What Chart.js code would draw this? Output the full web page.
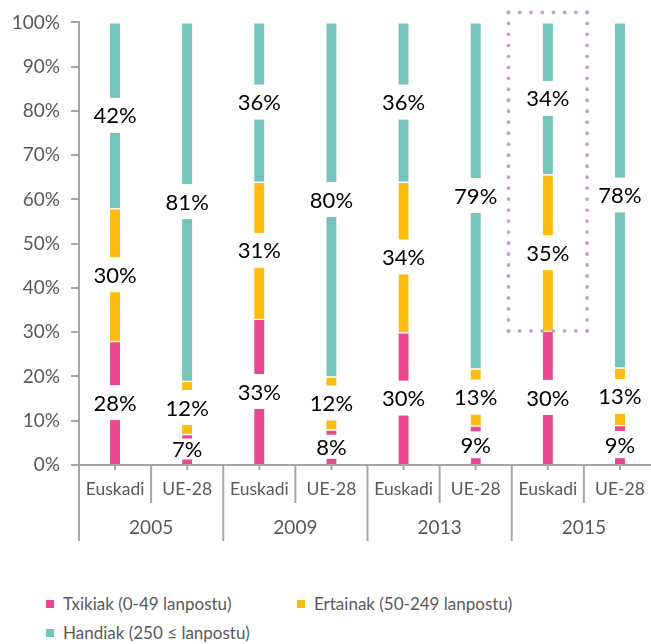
<!DOCTYPE html>
<html lang="eu">
<head>
    <meta charset="UTF-8">
    <title>Enpresen tamaina</title>
    <script src="https://cdn.jsdelivr.net/npm/chart.js@4"></script>
    <style>
        * { box-sizing: border-box; margin: 0; padding: 0; }
        body { background: #fff; width: 651px; height: 644px; overflow: hidden; font-family: 'Lato', sans-serif; }
        .wrap { position: relative; width: 651px; height: 644px; overflow: hidden; }
        #chart { position: absolute; left: 0; top: 0; }
        .legend {
            position: absolute; left: 46px; top: 589px;
            display: grid; grid-template-columns: 251px auto;
            font-size: 17px; line-height: 29px; color: #595959;
        }
        .legend-item { display: flex; align-items: center; white-space: nowrap; }
        .legend-box { width: 8px; height: 8px; margin-right: 9px; }
    </style>
</head>
<body>
<div class="wrap">
    <canvas id="chart" width="656" height="560"></canvas>
    <div class="legend" id="legend"></div>
</div>
<script>
    // categories: two levels (region / year)
    const regions = ['Euskadi', 'UE-28', 'Euskadi', 'UE-28', 'Euskadi', 'UE-28', 'Euskadi', 'UE-28'];
    const years = ['2005', '2009', '2013', '2015'];

    // enpresa tamaina, % of total
    const txikiak  = [28, 7, 33, 8, 30, 9, 30, 9];
    const ertainak = [30, 12, 31, 12, 34, 13, 35, 13];
    const handiak  = [42, 81, 36, 80, 36, 79, 34, 78];

    const seriesNames = ['Txikiak (0-49 lanpostu)', 'Ertainak (50-249 lanpostu)', 'Handiak (250 \u2264 lanpostu)'];
    const seriesColors = ['#E9488F', '#FCBD10', '#74C4B9'];

    const yTicks = [0, 10, 20, 30, 40, 50, 60, 70, 80, 90, 100];

    const highlightIndex = 6; // Euskadi 2015

    const grey = '#A6A6A6';
    const textGrey = '#595959';

    // rounded labels don't always sum to 100, scale each bar to 100%
    const totals = txikiak.map((v, i) => v + ertainak[i] + handiak[i]);
    const share = arr => arr.map((v, i) => v / totals[i] * 100);

    const series = [txikiak, ertainak, handiak];

    const datasets = series.map((arr, k) => ({
        label: seriesNames[k],
        data: share(arr),
        pct: arr,
        backgroundColor: seriesColors[k],
        borderColor: '#fff',
        borderWidth: { top: 1.5, bottom: 0, left: 0, right: 0 },
        borderSkipped: false,
        barThickness: 10
    }));

    const segmentLabels = {
        id: 'segmentLabels',
        afterDatasetsDraw(chart) {
            const ctx = chart.ctx;
            ctx.save();
            ctx.font = '22px Lato';
            ctx.textAlign = 'center';
            ctx.textBaseline = 'middle';
            chart.data.datasets.forEach((ds, di) => {
                chart.getDatasetMeta(di).data.forEach((bar, i) => {
                    const cy = (bar.y + bar.base) / 2;
                    const segH = Math.abs(bar.base - bar.y);
                    const boxH = Math.min(35, segH * 0.7);
                    const txt = ds.pct[i] + '%';
                    const w = ctx.measureText(txt).width + 6;
                    ctx.fillStyle = '#fff';
                    ctx.fillRect(bar.x - w / 2, cy - boxH / 2, w, boxH);
                    ctx.fillStyle = '#000';
                    ctx.fillText(txt, bar.x, cy + 1);
                });
            });
            ctx.restore();
        }
    };

    const highlightBox = {
        id: 'highlightBox',
        afterDraw(chart) {
            const ctx = chart.ctx;
            const x = chart.scales.x, y = chart.scales.y;
            const c = x.getPixelForValue(highlightIndex);
            const half = (x.getPixelForValue(1) - x.getPixelForValue(0)) * 0.545;
            const left = c - half, right = c + half;
            const top = chart.chartArea.top - 10;
            const bottom = y.getPixelForValue(share(txikiak)[highlightIndex]);
            ctx.save();
            ctx.fillStyle = '#C3A0D0';
            const side = (x0, y0, x1, y1) => {
                const len = Math.hypot(x1 - x0, y1 - y0);
                const n = Math.round(len / 11);
                for (let s = 0; s <= n; s++) {
                    ctx.beginPath();
                    ctx.arc(x0 + (x1 - x0) * s / n, y0 + (y1 - y0) * s / n, 1.9, 0, Math.PI * 2);
                    ctx.fill();
                }
            };
            side(left, top, right, top);
            side(right, top, right, bottom);
            side(right, bottom, left, bottom);
            side(left, bottom, left, top);
            ctx.restore();
        }
    };

    const groupAxis = {
        id: 'groupAxis',
        afterDraw(chart) {
            const ctx = chart.ctx;
            const x = chart.scales.x;
            const area = chart.chartArea;
            const bottom = area.bottom;
            const step = x.getPixelForValue(1) - x.getPixelForValue(0);
            ctx.save();
            ctx.strokeStyle = grey;
            ctx.lineWidth = 2;
            ctx.beginPath();
            ctx.moveTo(area.left, bottom);
            ctx.lineTo(area.right, bottom);
            ctx.stroke();

            for (let i = 0; i <= regions.length; i++) {
                const bx = area.left + i * step;
                ctx.beginPath();
                ctx.moveTo(bx, bottom);
                ctx.lineTo(bx, bottom + (i % 2 === 0 ? 76 : 38));
                ctx.stroke();
            }
            ctx.fillStyle = textGrey;
            ctx.textAlign = 'center';
            ctx.textBaseline = 'middle';
            ctx.font = '17.5px Lato';
            regions.forEach((r, i) => {
                const c = x.getPixelForValue(i);
                ctx.beginPath();
                ctx.moveTo(c, bottom);
                ctx.lineTo(c, bottom + 5);
                ctx.stroke();
                ctx.fillText(r, c, bottom + 24);
            });
            ctx.font = '19px Lato';
            years.forEach((yr, g) => {
                const c = area.left + (g * 2 + 1) * step;
                ctx.fillText(yr, c, bottom + 63);
            });
            ctx.restore();
        }
    };

    new Chart(document.getElementById('chart'), {
        type: 'bar',
        data: { labels: regions.map((r, i) => r + ' ' + years[Math.floor(i / 2)]), datasets },
        options: {
            responsive: false,
            animation: false,
            layout: { padding: { top: 22, bottom: 95, left: 0, right: 0 } },
            plugins: { legend: { display: false }, tooltip: { enabled: false } },
            scales: {
                x: { stacked: true, display: false },
                y: {
                    stacked: true,
                    min: 0,
                    max: 100,
                    afterBuildTicks: s => { s.ticks = yTicks.map(v => ({ value: v })); },
                    afterFit: s => { s.width = 79; },
                    ticks: {
                        callback: v => v + '%',
                        color: textGrey,
                        font: { family: 'Lato', size: 19 },
                        padding: 11
                    },
                    grid: { drawOnChartArea: false, tickLength: 8, color: grey, lineWidth: 2 },
                    border: { color: grey, width: 2 }
                }
            }
        },
        plugins: [segmentLabels, highlightBox, groupAxis]
    });

    // legend
    const legend = document.getElementById('legend');
    seriesNames.forEach((name, k) => {
        const item = document.createElement('div');
        item.className = 'legend-item';
        item.innerHTML = '<span class="legend-box" style="background:' + seriesColors[k] + '"></span><span></span>';
        item.lastChild.textContent = name;
        legend.appendChild(item);
    });
</script>
</body>
</html>
